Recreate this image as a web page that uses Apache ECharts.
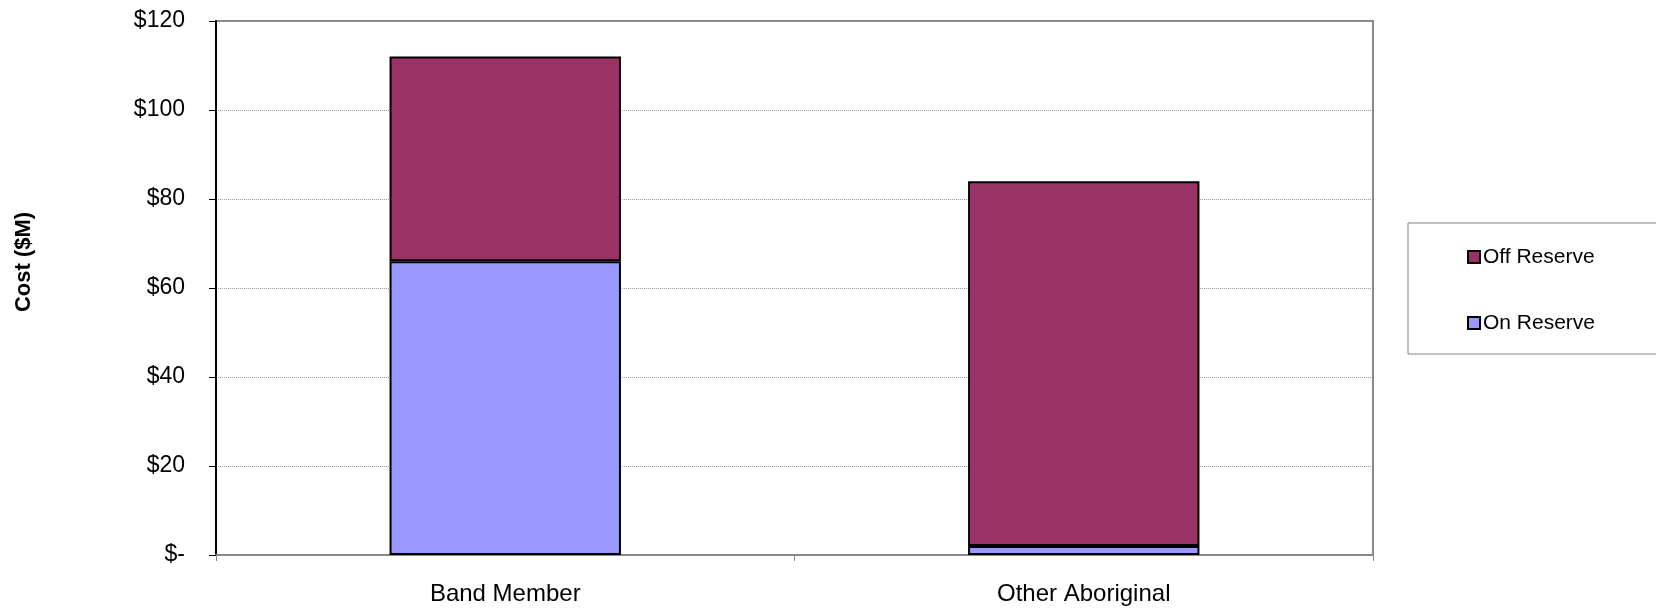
<!DOCTYPE html>
<html>
	<head>
		<meta charset="utf-8" />
		<title></title>
		<script src="https://cdn.jsdelivr.net/npm/echarts@6/dist/echarts.min.js" type="text/javascript"></script>
		<style>
			body { margin: 0; background: #fff; }
		</style>
	</head>
	<body>
		<div id="main" style="width: 1656px; height: 609px;"></div>
		<script>
			var categories = ['Band Member', 'Other Aboriginal'];
			var onReserve = [66, 2];
			var offReserve = [46, 82];
			var yTicks = [0, 20, 40, 60, 80, 100, 120];

			var font = 'Liberation Sans, Arial, sans-serif';
			var chart = echarts.init(document.getElementById('main'));

			var option = {
				backgroundColor: '#fff',
				animation: false,
				textStyle: { fontFamily: font, color: '#000' },
				grid: {
					left: 216, right: 283, top: 21, bottom: 54,
					show: true,
					borderColor: '#888',
					borderWidth: 2
				},
				// axis title, placed by hand like in the original
				graphic: [{
					type: 'text',
					x: 24,
					y: 262,
					rotation: Math.PI / 2,
					style: {
						text: 'Cost ($M)',
						font: 'bold 22px ' + font,
						fill: '#000',
						align: 'center',
						verticalAlign: 'middle'
					}
				}],
				legend: {
					orient: 'vertical',
					left: 1408,
					top: 223,
					data: ['Off Reserve', 'On Reserve'],
					icon: 'rect',
					itemWidth: 12,
					itemHeight: 12,
					itemGap: 42,
					padding: [22, 80, 19, 59],
					borderColor: '#808080',
					borderWidth: 1,
					itemStyle: { borderColor: '#000', borderWidth: 2 },
					textStyle: { fontSize: 21, color: '#000', lineHeight: 24, padding: [0, 0, 0, -2] }
				},
				xAxis: {
					type: 'category',
					data: categories,
					axisLine: { lineStyle: { color: '#888', width: 2 } },
					axisTick: { show: true, length: 6, lineStyle: { color: '#888' } },
					axisLabel: { fontSize: 24, color: '#000', margin: 27 }
				},
				yAxis: {
					type: 'value',
					min: yTicks[0],
					max: yTicks[yTicks.length - 1],
					interval: yTicks[1] - yTicks[0],
					axisLine: { show: true, lineStyle: { color: '#000', width: 2 } },
					axisTick: { show: true, length: 7, lineStyle: { color: '#000' } },
					axisLabel: {
						fontSize: 23,
						color: '#000',
						margin: 31,
						formatter: function (v) { return v === 0 ? '$-' : '$' + v; }
					},
					splitLine: { lineStyle: { color: '#999', type: 'dotted', width: 1 } }
				},
				series: [
					{
						name: 'On Reserve',
						type: 'bar',
						stack: 'cost',
						barWidth: '40%',
						data: onReserve,
						itemStyle: { color: '#9999FF', borderColor: '#000', borderWidth: 2 }
					},
					{
						name: 'Off Reserve',
						type: 'bar',
						stack: 'cost',
						barWidth: '40%',
						data: offReserve,
						itemStyle: { color: '#993366', borderColor: '#000', borderWidth: 2 }
					}
				]
			};
			chart.setOption(option);
		</script>
	</body>
</html>
